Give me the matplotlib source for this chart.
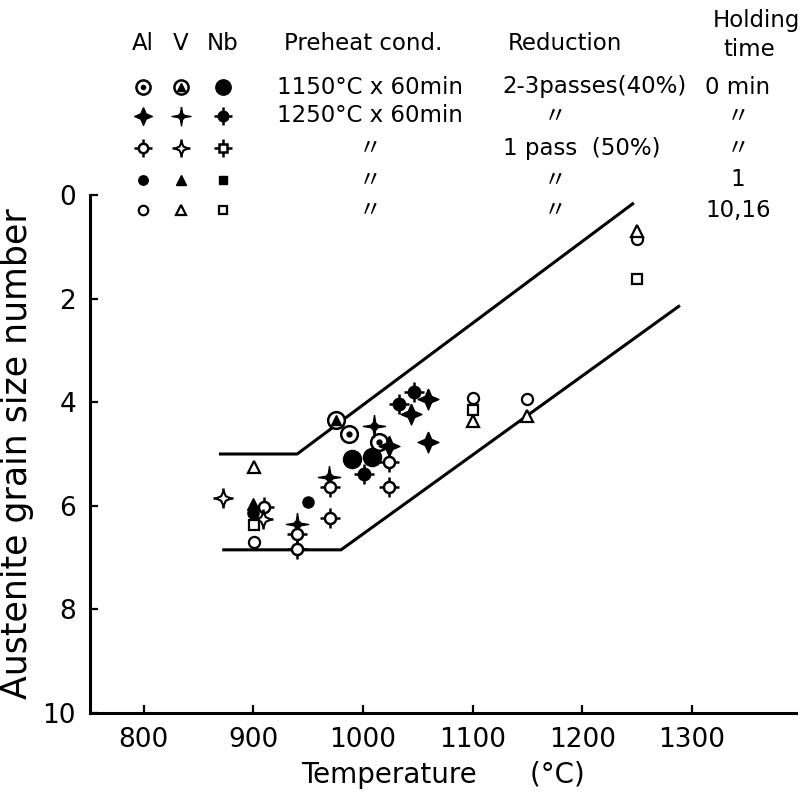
import matplotlib
matplotlib.use("Agg")
import matplotlib.pyplot as plt

W, H = 808, 798

# band lines (temperature, grain size number)
upper_t = [870, 940, 1246]
upper_g = [5.0, 5.0, 0.17]
lower_t = [873, 980, 1288]
lower_g = [6.85, 6.85, 2.15]

# measured points, one pair of lists per symbol
t_al1 = [987, 1015]
g_al1 = [4.62, 4.77]
t_v1 = [975]
g_v1 = [4.35]
t_nb1 = [990, 1008]
g_nb1 = [5.09, 5.06]
t_al2 = [1024, 1059, 1044, 1059]
g_al2 = [4.84, 3.93, 4.22, 4.76]
t_v2 = [940, 969, 1010]
g_v2 = [6.35, 5.45, 4.45]
t_nb2 = [1001, 1047, 1033]
g_nb2 = [5.38, 3.81, 4.03]
t_al3 = [940, 940, 970, 970, 1024, 1024, 910]
g_al3 = [6.54, 6.83, 5.63, 6.23, 5.16, 5.64, 6.03]
t_v3 = [872, 909]
g_v3 = [5.84, 6.26]
t_al4 = [900, 950]
g_al4 = [6.13, 5.92]
t_v4 = [900]
g_v4 = [5.97]
t_al5 = [901, 1100, 1150, 1250]
g_al5 = [6.69, 3.92, 3.93, 0.85]
t_v5 = [901, 1100, 1150, 1250]
g_v5 = [5.26, 4.37, 4.26, 0.69]
t_nb5 = [901, 1100, 1250]
g_nb5 = [6.38, 4.15, 1.63]

x_ticks = [800, 900, 1000, 1100, 1200, 1300]
y_ticks = [0, 2, 4, 6, 8, 10]

preheat = ["1150°C x 60min", "1250°C x 60min", "〃", "〃", "〃"]
reduction = ["2-3passes(40%)", "〃", "1 pass  (50%)", "〃", "〃"]
holding = ["0 min", "〃", "〃", "1", "10,16"]

STAR_FAT = [(0, 1), (0.3, 0.3), (1, 0), (0.3, -0.3), (0, -1), (-0.3, -0.3), (-1, 0), (-0.3, 0.3), (0, 1)]
STAR_THIN = [(0, 1), (0.14, 0.14), (1, 0), (0.14, -0.14), (0, -1), (-0.14, -0.14), (-1, 0), (-0.14, 0.14), (0, 1)]

# composite symbols: (marker, size, facecolor, edgewidth)
SYMBOLS = {
    "Al1": [("o", 12, "white", 1.8), ("o", 3.5, "black", 1)],
    "V1": [("o", 12, "white", 1.8), ("^", 7, "black", 1)],
    "Nb1": [("o", 13, "black", 1)],
    "Al2": [(STAR_FAT, 15, "black", 1)],
    "V2": [(STAR_THIN, 16, "black", 1), ("o", 5, "black", 1)],
    "Nb2": [("+", 15, "black", 1.8), ("o", 9, "black", 1)],
    "Al3": [("+", 15, "black", 1.8), ("o", 8, "white", 1.8)],
    "V3": [("+", 15, "black", 1.8), (STAR_FAT, 11, "white", 1.5)],
    "Nb3": [("+", 15, "black", 1.8), ("s", 7.5, "white", 1.8)],
    "Al4": [("o", 8, "black", 1)],
    "V4": [("^", 8.5, "black", 1)],
    "Nb4": [("s", 7.5, "black", 1)],
    "Al5": [("o", 8, "white", 1.6)],
    "V5": [("^", 8.5, "white", 1.6)],
    "Nb5": [("s", 7, "white", 1.6)],
}


def draw_symbol(ax, x, y, kind, scale=1.0):
    for marker, size, face, lw in SYMBOLS[kind]:
        ax.plot(x, y, ls="none", marker=marker, ms=size * scale, mfc=face,
                mec="black", mew=lw, clip_on=False, zorder=3)


plt.rcParams["font.family"] = ["DejaVu Sans", "Noto Sans CJK JP"]
fig = plt.figure(figsize=(W / 100, H / 100), dpi=100)

# legend layer in pixel units
lax = fig.add_axes([0, 0, 1, 1], zorder=0)
lax.set_xlim(0, W)
lax.set_ylim(H, 0)
lax.axis("off")

ax = fig.add_axes([90 / W, 85 / H, 706 / W, 518 / H], zorder=1)
ax.patch.set_alpha(0)

ax.plot(upper_t, upper_g, color="black", lw=2.2, zorder=2)
ax.plot(lower_t, lower_g, color="black", lw=2.2, zorder=2)

series = [
    ("Al1", t_al1, g_al1), ("V1", t_v1, g_v1), ("Nb1", t_nb1, g_nb1),
    ("Al2", t_al2, g_al2), ("V2", t_v2, g_v2), ("Nb2", t_nb2, g_nb2),
    ("Al3", t_al3, g_al3), ("V3", t_v3, g_v3),
    ("Al4", t_al4, g_al4), ("V4", t_v4, g_v4),
    ("Al5", t_al5, g_al5), ("V5", t_v5, g_v5), ("Nb5", t_nb5, g_nb5),
]
for kind, ts, gs in series:
    draw_symbol(ax, ts, gs, kind)

ax.set_xlim(751, 1395)
ax.set_ylim(10, 0)
ax.set_xticks(x_ticks)
ax.set_yticks(y_ticks)
ax.tick_params(direction="in", length=6, width=1.6, labelsize=19, pad=10)
for side in ("top", "right"):
    ax.spines[side].set_visible(False)
for side in ("left", "bottom"):
    ax.spines[side].set_linewidth(2.2)
ax.set_xlabel("Temperature      (°C)", fontsize=20, labelpad=6)
ax.set_ylabel("Austenite grain size number", fontsize=25, labelpad=6)

# legend block
cols_x = [143, 181, 223]
rows_y = [87, 116, 148, 180, 210]
elements = ["Al", "V", "Nb"]
fs = 16.5
for x, name in zip(cols_x, elements):
    lax.text(x, 44, name, fontsize=fs, ha="center", va="center")
lax.text(363, 44, "Preheat cond.", fontsize=fs, ha="center", va="center")
lax.text(565, 44, "Reduction", fontsize=fs, ha="center", va="center")
lax.text(756, 21, "Holding", fontsize=fs, ha="center", va="center")
lax.text(749, 50, "time", fontsize=fs, ha="center", va="center")
red_x = [595, 555, 582, 555, 555]
for i, y in enumerate(rows_y):
    for j, name in enumerate(elements):
        draw_symbol(lax, [cols_x[j]], [y], f"{name}{i + 1}", scale=0.85)
    lax.text(370, y, preheat[i], fontsize=fs, ha="center", va="center")
    lax.text(red_x[i], y, reduction[i], fontsize=fs, ha="center", va="center")
    lax.text(738, y, holding[i], fontsize=fs, ha="center", va="center")

fig.savefig("out.png", dpi=100, facecolor="white")
